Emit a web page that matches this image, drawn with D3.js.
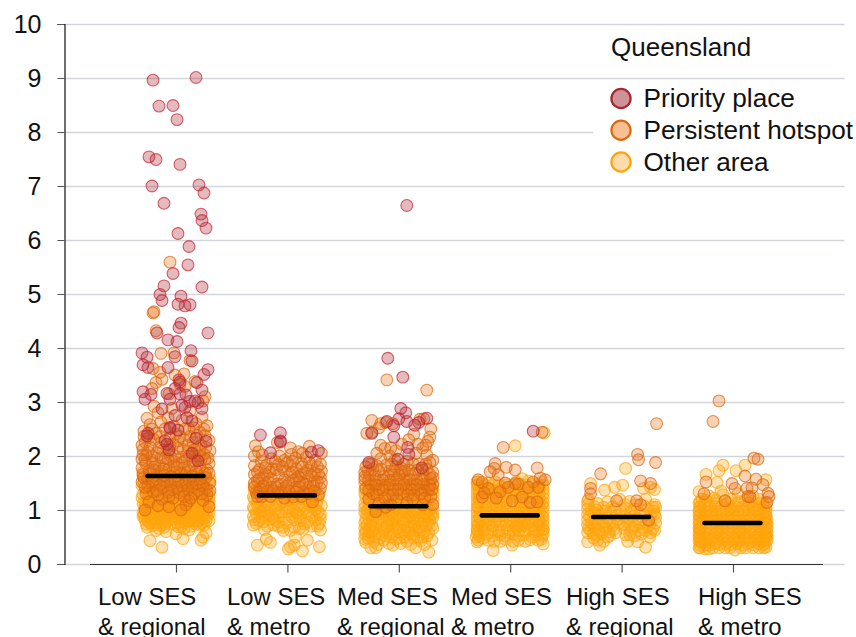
<!DOCTYPE html>
<html>
<head>
<meta charset="utf-8">
<script src="https://cdn.jsdelivr.net/npm/d3@7"></script>
<style>
  body { margin: 0; background: #fff; }
  svg { display: block; font-family: "Liberation Sans", Arial, sans-serif; }
</style>
</head>
<body>
<svg id="my_svg"></svg>
<script>
const categories = ['Low SES & regional', 'Low SES & metro', 'Med SES & regional', 'Med SES & metro', 'High SES & regional', 'High SES & metro'];
const labelLines = [['Low SES', '& regional'], ['Low SES', '& metro'], ['Med SES', '& regional'], ['Med SES', '& metro'], ['High SES', '& regional'], ['High SES', '& metro']];
const yTicks = [0, 1, 2, 3, 4, 5, 6, 7, 8, 9, 10];
const means = [1.63, 1.27, 1.07, 0.9, 0.87, 0.76];
const legendTitle = 'Queensland';
const legendLabels = ['Priority place', 'Persistent hotspot', 'Other area'];

// each point is [jitter, value]
const lowRegionalOther = [[-26,.43],[-14,.31],[7,.47],[25,.44],[27,.5],[-10,.6],[-20,.62],[0,.56],[13,.63],[30,.58],[-29,.68],[-31,.82],[-24,.71],[-18,.78],[-12,.68],[-5,.74],[2,.69],[9,.76],[15,.7],[22,.79],[28,.72],[33,.8],[-27,.88],[-14,.85],[-1,.83],[11,.86],[25,.87],[-33,.95],[-22,.93],[-8,.9],[5,.94],[18,.91],[31,.96],[-29,1.02],[-17,.99],[-4,1.03],[8,1.0],[21,1.04],[33,1.07],[-33,1.12],[-24,1.09],[-11,1.13],[2,1.1],[14,1.08],[27,1.12],[-28,1.2],[-19,1.17],[-7,1.21],[6,1.18],[17,1.2],[30,1.22],[-33,1.29],[-23,1.27],[-13,1.3],[-1,1.26],[11,1.29],[23,1.28],[33,1.31],[-30,1.37],[-18,1.36],[-6,1.39],[5,1.35],[18,1.37],[28,1.4],[-34,1.45],[-25,1.44],[-12,1.47],[1,1.44],[13,1.46],[25,1.48],[33,1.5],[-29,1.54],[-17,1.52],[-4,1.55],[9,1.53],[20,1.56],[-33,1.62],[-21,1.6],[-9,1.63],[5,1.61],[16,1.64],[30,1.62],[-26,.76],[-7,.98],[12,.95],[-20,1.05],[24,.99],[-31,1.05],[6,.8],[19,.83],[-16,1.1],[-2,1.16],[30,1.03],[-9,.79],[-27,1.25],[16,1.12],[-15,.92],[-1,.95],[25,1.2],[10,1.14],[-22,1.33],[3,1.25],[20,.74],[-17,.66],[8,.66],
  [-30,.74],[-21,.84],[-11,.75],[-3,.88],[4,.78],[13,.79],[18,.8],[26,.76],[31,.88],[-32,.9],[-24,.98],[-12,.97],[-2,1.0],[10,1.03],[16,.96],[22,.97],[28,.93],[-30,1.14],[-21,1.14],[-9,1.07],[0,1.06],[8,1.07],[19,1.14],[24,1.06],[33,1.16],[-34,1.23],[-25,1.21],[-13,1.24],[-4,1.31],[7,1.33],[15,1.24],[28,1.3],[33,1.24],[-28,1.33],[-20,1.41],[-9,1.44],[2,1.39],[11,1.41],[22,1.43],[31,1.35],[-32,1.5],[-23,1.52],[-14,1.56],[-1,1.5],[7,1.47],[17,1.5],[27,1.55],[34,1.57],[-27,1.6],[-13,1.65],[1,1.6],[12,1.6],[24,1.62],[-33,1.7],[-19,1.72],[-4,1.7],[9,1.7],[26,1.72],[-24,.82],[-10,.85],[3,.86],[15,.86],[28,.84],[-16,.72],[5,.7],[24,.72],[-30,.95],[-7,1.13],[13,1.16],[-18,1.24],[20,1.3],[-26,1.42],
  [-33,.88],[-28,.8],[-20,.76],[-13,.8],[-7,.84],[0,.78],[7,.86],[11,.8],[17,.85],[23,.84],[30,.8],[-26,.95],[-19,.9],[-11,.9],[-4,.94],[2,.92],[9,.91],[14,.98],[20,.95],[27,.97],[33,.94],[-31,1.1],[-25,1.03],[-13,1.04],[-3,1.09],[4,1.03],[11,1.08],[18,1.05],[27,1.05],[32,1.12],[-22,1.2],[-11,1.2],[1,1.18],[11,1.2],[21,1.18]];
const lowRegionalPersistent = [[-6,5.59],[-23,4.65],[-22,4.67],[-20,4.32],[-15,3.9],[-2,3.91],[14,3.77],[-23,3.62],[-16,3.55],[-1,3.5],[8,3.52],[-20,3.36],[-14,3.42],[-24,3.25],[9,3.29],[29,3.1],[27,3.02],[-7,3.15],[4,3.33],[19,3.38],[-22,2.92],[-18,2.8],[-29,2.7],[-4,2.88],[14,2.83],[26,2.72],[-26,2.58],[-15,2.63],[-8,2.71],[6,2.66],[20,2.6],[28,2.5],[31,2.56],[-32,2.46],[-20,2.42],[-11,2.5],[0,2.41],[13,2.5],[24,2.44],[29,2.38],[33,2.29],[-31,2.26],[-22,2.3],[-3,2.22],[8,2.3],[17,2.25],[25,2.2],[34,2.1],[-33,2.12],[-26,2.16],[-13,2.11],[2,2.14],[12,2.08],[28,2.03],[-30,2.02],[-19,2.06],[-6,2.01],[6,1.98],[19,2.0],[32,1.96],[-34,1.94],[-24,1.92],[-15,1.97],[-2,1.9],[11,1.94],[25,1.93],[-30,1.86],[-10,1.86],[3,1.84],[17,1.86],[33,1.86],[-34,1.78],[-21,1.8],[-7,1.77],[8,1.78],[24,1.8],[-27,1.72],[-14,1.72],[0,1.7],[14,1.71],[31,1.74],[-33,1.66],[-19,1.64],[-5,1.62],[9,1.64],[22,1.66],[-28,1.58],[-12,1.56],[3,1.57],[17,1.55],[30,1.6],[-34,1.52],[-20,1.5],[-6,1.48],[10,1.5],[24,1.52],[34,1.5],[-28,1.44],[-13,1.42],[1,1.42],[16,1.44],[30,1.4],[-23,1.34],[-8,1.33],[8,1.35],[22,1.36],[-30,1.3],[31,1.28],[-27,1.15],[-14,1.2],[-3,1.22],[13,1.17],[27,1.18],[-18,1.08],[-7,1.06],[10,1.1],[33,1.06],[-31,1.0],[5,1.0],
  [-31,1.92],[-26,1.68],[-17,1.82],[-2,1.82],[5,1.68],[13,1.8],[20,1.72],[29,1.68],[-32,1.6],[-24,1.52],[-16,1.46],[-9,1.52],[-1,1.54],[6,1.45],[13,1.55],[20,1.48],[27,1.45],[-31,1.42],[-19,1.36],[-4,1.37],[3,1.32],[12,1.38],[18,1.3],[26,1.3],[34,1.36],[-33,2.02],[-24,2.0],[-11,1.96],[-1,2.0],[13,2.0],[23,2.0],[29,1.94],[-28,2.08],[-17,2.15],[-7,2.08],[7,2.12],[18,2.12],[24,2.1],[-34,2.2],[-15,2.25],[-6,2.2],[2,2.28],[12,2.2],[21,2.15],[30,2.16],[-27,2.34],[-16,2.36],[-6,2.34],[4,2.36],[14,2.36],[21,2.38],[-32,2.36],[-24,2.5],[-2,2.55],[9,2.5],[18,2.52],[-12,1.76],[-22,1.74],[6,1.88],[-8,1.94],[-12,1.64],[1,1.78],[16,1.62],[25,1.58],[33,1.68],[-23,1.86],[19,1.9],[-18,1.28],[-7,1.25],[8,1.25],[15,1.22]];
const lowRegionalPriority = [[-23,8.96],[20,9.01],[-17,8.48],[-3,8.49],[1,8.23],[-27,7.54],[-20,7.49],[4,7.4],[-24,7.0],[23,7.02],[28,6.87],[-12,6.68],[25,6.48],[26,6.36],[30,6.22],[2,6.12],[13,5.88],[12,5.54],[-3,5.38],[-12,5.15],[26,5.13],[-16,4.99],[5,4.96],[-14,4.88],[2,4.81],[14,4.8],[9,4.78],[5,4.46],[3,4.38],[32,4.28],[-19,4.28],[-8,4.15],[1,4.12],[15,3.95],[-34,3.91],[-29,3.83],[-1,3.84],[16,3.76],[-33,3.69],[-28,3.64],[-8,3.64],[32,3.6],[28,3.51],[3,3.41],[4,3.37],[21,3.36],[-1,3.25],[-33,3.19],[26,3.22],[-25,3.14],[-31,3.05],[-9,3.16],[-6,3.05],[4,3.15],[10,3.13],[6,2.94],[9,2.9],[14,3.01],[19,3.02],[22,2.99],[26,2.88],[-14,2.87],[-1,2.75],[11,2.71],[16,2.65],[-6,2.53],[-6,2.51],[2,2.48],[-28,2.42],[-29,2.37],[-11,2.28],[-9,2.22],[-7,2.11],[20,2.33],[30,2.27],[16,2.05],[22,1.91]];

const lowMetroOther = [[-30,.35],[-21,.46],[-17,.4],[1,.28],[3,.32],[7,.35],[15,.24],[20,.44],[32,.32],[8,.5],[33,.63],[-34,.72],[-23,.64],[-14,.72],[-5,.68],[3,.62],[12,.66],[24,.7],[32,.75],[-28,.8],[-18,.83],[-9,.78],[-1,.76],[8,.82],[17,.74],[28,.82],[-34,.88],[-22,.9],[-12,.92],[2,.9],[13,.88],[22,.94],[33,.92],[-28,.98],[-17,1.0],[-6,.97],[6,1.0],[17,1.02],[28,1.0],[-34,1.05],[-23,1.08],[-11,1.08],[-1,1.1],[11,1.1],[23,1.12],[34,1.08],[-30,1.15],[-18,1.17],[-5,1.16],[6,1.18],[17,1.2],[30,1.18],[-34,1.24],[-24,1.26],[-12,1.26],[1,1.27],[13,1.28],[26,1.28],[-31,1.34],[-18,1.36],[-6,1.33],[8,1.36],[20,1.36],[32,1.32],[-33,1.44],[-26,.97],[9,.94],[-13,.82],
  [-31,.75],[-24,.78],[-20,.7],[-9,.7],[-4,.62],[7,.68],[16,.66],[20,.78],[30,.7],[-33,.82],[-25,.86],[-15,.86],[-4,.84],[5,.86],[13,.8],[25,.88],[33,.84],[-31,.94],[-20,.95],[-9,.95],[0,.97],[10,.94],[19,.96],[31,.97],[-33,1.02],[-24,1.0],[-12,1.02],[2,1.04],[14,1.05],[25,1.05],[-30,1.1],[-19,1.12],[-7,1.12],[5,1.13],[19,1.13],[29,1.12],[-33,1.2],[-24,1.18],[-11,1.2],[0,1.2],[12,1.22],[24,1.2],[-28,1.3],[-15,1.3],[-3,1.32],[6,1.3],[18,1.32],[31,1.25],[-33,1.36],[-24,1.38],[25,1.36]];
const lowMetroPersistent = [[-32,2.19],[-29,2.08],[-10,2.25],[3,2.15],[22,2.18],[34,2.05],[-33,2.0],[-25,2.02],[11,2.08],[15,2.05],[4,2.03],[-8,2.0],[-26,1.9],[-16,1.95],[-3,1.92],[8,1.96],[19,1.98],[28,1.92],[33,1.85],[-33,1.82],[-21,1.83],[-9,1.84],[3,1.82],[14,1.86],[24,1.82],[-28,1.75],[-15,1.76],[-3,1.72],[9,1.76],[20,1.74],[34,1.72],[-33,1.66],[-22,1.66],[-9,1.65],[3,1.66],[14,1.66],[27,1.68],[-28,1.58],[-16,1.58],[-3,1.56],[9,1.58],[21,1.58],[33,1.6],[-33,1.5],[-22,1.5],[-10,1.48],[2,1.5],[15,1.5],[27,1.52],[-27,1.4],[-16,1.42],[-4,1.4],[8,1.42],[21,1.42],[33,1.4],[-31,1.32],[-10,1.32],[16,1.33],[31,1.28],[-26,1.24],[-3,1.22],[25,1.15],
  [-30,1.7],[-24,1.6],[-18,1.7],[-11,1.75],[-5,1.8],[5,1.7],[11,1.62],[18,1.68],[24,1.64],[31,1.66],[-30,1.54],[-19,1.52],[-6,1.48],[6,1.55],[12,1.52],[18,1.48],[30,1.52],[-33,1.42],[-24,1.44],[-11,1.42],[-1,1.44],[12,1.42],[26,1.44],[34,1.5],[-28,1.33],[-20,1.35],[-14,1.35],[-6,1.32],[2,1.34],[9,1.33],[21,1.3],[27,1.35],[-30,1.25],[-17,1.25],[6,1.24],[14,1.25],[-22,1.78],[0,1.88],[15,1.8],[22,1.88],[30,1.8],[-12,1.9],[5,1.9]];
const lowMetroPriority = [[-27,2.39],[-7,2.43],[-7,2.26],[-7,2.28],[-17,2.06],[24,2.07],[31,2.1]];

const medRegionalOther = [[-28,.3],[-23,.3],[17,.3],[30,.22],[-6,.35],[33,.44],[-34,.46],[-34,.56],[-25,.42],[-15,.44],[-3,.46],[8,.42],[22,.43],[28,.52],[-30,.63],[-20,.55],[-9,.56],[3,.55],[14,.54],[25,.6],[34,.66],[-26,.7],[-14,.66],[-2,.66],[9,.68],[20,.68],[30,.74],[-34,.76],[-21,.78],[-8,.75],[4,.77],[15,.78],[26,.8],[-30,.85],[-16,.86],[-3,.84],[9,.88],[21,.88],[34,.86],[-34,.95],[-23,.94],[-10,.94],[3,.95],[14,.97],[28,.96],[-29,1.03],[-17,1.04],[-4,1.04],[8,1.06],[21,1.04],[34,1.03],[-34,1.12],[-23,1.13],[-10,1.12],[2,1.13],[15,1.14],[27,1.13],[-30,1.22],[-17,1.22],[-5,1.21],[8,1.22],[21,1.22],[34,1.2],[-34,1.3],[-23,1.3],[-11,1.3],[2,1.3],[15,1.3],[28,1.3],[-30,1.39],[-17,1.38],[-4,1.38],[10,1.38],[22,1.4],[34,1.38],[-34,1.48],[-24,1.47],[-10,1.46],[4,1.46],[17,1.48],[30,1.48],[-34,.66],[-12,.76],[11,.78],[32,.92],[-20,1.0],[6,.98],[25,1.08],[-27,1.17],[12,1.27],[-14,1.42],[-6,1.65],[4,1.72],[-30,.52],[17,.62],[-10,1.03],
  [-33,.4],[-21,.36],[-10,.38],[2,.38],[12,.36],[26,.36],[-33,.6],[-28,.58],[-24,.52],[-13,.52],[-6,.6],[6,.5],[11,.58],[19,.48],[30,.58],[-32,.72],[-23,.66],[-18,.72],[-5,.72],[5,.62],[13,.7],[23,.74],[33,.72],[-33,.84],[-26,.82],[-10,.82],[2,.84],[14,.84],[26,.88],[31,.82],[-32,.93],[-17,.94],[-6,.92],[8,.94],[19,.95],[34,.93],[-28,.96],[-22,1.04],[-12,1.0],[1,1.0],[13,1.02],[28,1.04],[-34,1.04],[-30,1.12],[-17,1.12],[-4,1.12],[9,1.14],[21,1.12],[33,1.12],[-24,1.2],[-11,1.22],[2,1.2],[14,1.22],[28,1.22],[-33,1.22],[-29,1.3],[-17,1.3],[-4,1.3],[9,1.3],[22,1.3],[34,1.3],[-24,1.38],[-10,1.38],[3,1.38],[16,1.38],[29,1.38],[-30,1.46],[-17,1.46],[-3,1.46],[11,1.46],[24,1.46],[34,1.45],[-34,1.38],[-23,1.54],[-9,1.54],[5,1.54],[18,1.54],[31,1.54],
  [-31,.48],[-19,.48],[-8,.5],[1,.48],[15,.48],[24,.5],[-26,.6],[-15,.6],[-1,.6],[9,.6],[21,.6],[-28,.72],[-12,.7],[-1,.72],[16,.7],[27,.72],[-20,.84],[-6,.82],[7,.82],[19,.82],[29,.88],[-25,.9],[-13,.92],[0,.9],[12,.9],[25,.94],[-31,1.0],[-16,1.0],[-5,.98],[5,1.04],[18,1.0],[31,1.0],[-26,1.08],[-13,1.08],[-1,1.08],[12,1.08],[24,1.16]];
const medRegionalPersistent = [[-12,3.41],[28,3.22],[-27,2.66],[-18,2.6],[-13,2.62],[21,2.68],[25,2.69],[32,2.5],[-32,2.42],[-27,2.44],[-20,2.52],[-6,2.6],[31,2.35],[15,2.4],[29,2.27],[-18,2.2],[-14,2.14],[-8,2.15],[-3,2.1],[19,2.22],[24,2.15],[27,2.2],[-22,2.05],[-9,2.0],[3,2.22],[10,2.3],[17,2.05],[28,2.02],[-18,1.95],[-4,1.92],[8,1.9],[34,1.92],[-30,1.85],[-22,1.82],[-12,1.84],[14,1.86],[31,1.88],[-26,1.76],[-3,1.8],[2,1.78],[28,1.76],[-34,1.7],[-20,1.72],[-9,1.72],[6,1.72],[19,1.74],[34,1.7],[-29,1.64],[-15,1.62],[0,1.64],[12,1.64],[25,1.64],[-34,1.56],[-22,1.54],[-8,1.55],[5,1.56],[18,1.56],[32,1.58],[-28,1.48],[-14,1.46],[0,1.48],[12,1.47],[25,1.48],[34,1.48],[-33,1.4],[-20,1.38],[-6,1.38],[7,1.4],[20,1.38],[30,1.38],[-26,1.3],[-10,1.28],[2,1.3],[15,1.28],[32,1.25],[-30,1.2],[-2,1.2],[-13,1.05],[-20,1.12],[-8,1.1],[8,1.14],[24,1.1],[34,1.1],[-23,.97],
  [-31,1.72],[-24,1.64],[-18,1.76],[-10,1.62],[-5,1.72],[3,1.7],[10,1.74],[16,1.68],[24,1.74],[31,1.66],[-30,1.55],[-16,1.55],[-2,1.56],[11,1.56],[24,1.55],[34,1.6],[-34,1.62],[-23,1.46],[-9,1.47],[5,1.47],[18,1.46],[31,1.46],[-30,1.36],[-16,1.37],[-1,1.38],[13,1.38],[26,1.36],[33,1.38],[-22,1.28],[-6,1.28],[9,1.28],[22,1.3],[-14,1.22],[14,1.2],[26,1.22],[-27,1.85],[-7,1.85],[5,1.85],[20,1.85],[27,1.85],[-33,1.8]];
const medRegionalPriority = [[8,6.64],[-11,3.81],[4,3.46],[2,2.88],[7,2.8],[-12,2.64],[0,2.69],[8,2.64],[-5,2.56],[16,2.57],[20,2.62],[28,2.7],[-27,2.42],[-5,2.35],[9,2.16],[10,2.03],[-1,1.94],[-30,1.88],[23,1.78]];

const medMetroOther = [[5,2.19],[34,2.43],[-17,.25],[2,.35],[-33,.41],[33,.37],[-34,.5],[-27,.48],[-16,.42],[-5,.46],[8,.44],[20,.45],[28,.44],[-33,.56],[-23,.55],[-10,.54],[3,.55],[14,.54],[26,.54],[33,.56],[-30,.63],[-17,.63],[-3,.64],[9,.62],[21,.64],[33,.64],[-33,.72],[-24,.72],[-10,.72],[2,.71],[15,.72],[28,.73],[-30,.8],[-16,.8],[-4,.8],[9,.8],[22,.81],[33,.8],[-33,.88],[-23,.88],[-10,.89],[3,.88],[16,.89],[28,.89],[-30,.97],[-17,.97],[-3,.97],[9,.96],[22,.98],[33,.96],[-33,1.05],[-24,1.05],[-10,1.05],[3,1.05],[16,1.05],[29,1.06],[-31,1.14],[-17,1.13],[-4,1.13],[10,1.14],[22,1.14],[33,1.14],[-33,1.22],[-24,1.22],[-11,1.22],[3,1.22],[16,1.22],[29,1.23],[-31,1.3],[-18,1.3],[-4,1.3],[10,1.3],[23,1.31],[33,1.3],[-33,1.38],[-24,1.38],[-11,1.38],[3,1.38],[16,1.38],[29,1.4],[-32,1.46],[-18,1.46],[-3,1.47],[10,1.48],[23,1.48],[33,1.46],[-33,1.52],[12,1.58],[-28,.68],[-12,.6],[6,.68],[-20,.76],[18,.76],[31,.7],[-6,.9],[25,.93],[-26,1.0],[12,1.0],[-14,1.1],[32,1.1],[-22,1.26],[6,1.26],[-8,1.42],[20,1.34],[-33,.64],[-1,.58],[24,.6],[-18,.89],[13,.84],[33,.87],[-33,.96],[-31,1.18],[-15,1.35],[27,1.18],[-27,1.44],[-7,1.17],[8,.75],
  [-32,.44],[-22,.44],[-10,.42],[3,.42],[15,.42],[31,.46],[-31,.52],[-18,.52],[-5,.52],[9,.52],[22,.5],[32,.52],[-33,.62],[-25,.63],[-11,.62],[3,.62],[15,.62],[28,.62],[33,.64],[-32,.72],[-18,.72],[-4,.72],[9,.7],[22,.72],[33,.72],[-33,.8],[-24,.8],[-11,.8],[2,.8],[15,.8],[29,.8],[-31,.88],[-17,.88],[-3,.88],[10,.88],[23,.88],[32,.88],[-25,.96],[-10,.96],[3,.96],[16,.96],[29,.96],[-32,1.05],[-18,1.05],[-4,1.05],[10,1.05],[22,1.05],[33,1.05],[-33,1.14],[-25,1.14],[-11,1.14],[3,1.14],[16,1.14],[29,1.14],[-31,1.22],[-18,1.22],[-4,1.22],[10,1.22],[23,1.22],[33,1.22],[-33,1.3],[-25,1.3],[-11,1.3],[3,1.3],[16,1.3],[29,1.3],[-31,1.38],[-18,1.38],[-4,1.38],[10,1.38],[23,1.38],[33,1.38],[-33,1.46],[-25,1.46],[-11,1.46],[3,1.46],[16,1.46],[29,1.46],[-33,1.52],[-22,1.5],[-15,1.52],[6,1.52],[18,1.54],[32,1.52]];
const medMetroPersistent = [[32,2.44],[-7,2.16],[-15,1.86],[-16,1.77],[-4,1.79],[5,1.74],[27,1.78],[-12,1.65],[-20,1.71],[-32,1.56],[-28,1.51],[35,1.56],[30,1.59],[23,1.52],[-5,1.5],[5,1.49],[-2,1.42],[8,1.48],[18,1.42],[-10,1.34],[-22,1.4],[-28,1.24],[2,1.17],[20,1.14],[27,1.15],[-14,1.22],[12,1.24],[28,1.42],[-26,1.32]];
const medMetroPriority = [[23,2.46]];

const highRegionalOther = [[4,1.77],[-31,1.49],[-17,1.37],[-7,1.42],[1,1.46],[33,1.38],[22,1.4],[29,1.42],[-34,1.17],[-33,1.2],[-24,1.12],[-14,1.15],[-2,1.2],[8,1.16],[24,1.2],[33,1.1],[34,1.05],[-34,1.02],[-27,1.06],[-18,1.05],[-9,1.06],[3,1.1],[13,1.02],[22,1.08],[32,.98],[-34,.92],[-28,.95],[-20,.92],[-11,.96],[-1,.98],[9,.96],[18,.94],[29,.88],[34,.86],[-34,.82],[-24,.84],[-14,.85],[-4,.82],[7,.84],[16,.84],[25,.78],[34,.76],[-34,.72],[-28,.72],[-18,.72],[-9,.72],[2,.74],[13,.72],[21,.68],[31,.65],[-31,.62],[-23,.62],[-12,.6],[-6,.58],[9,.62],[20,.55],[28,.5],[-34,.41],[-28,.48],[-22,.35],[-18,.42],[6,.42],[16,.41],[24,.31],[-25,.54],[-34,.58],[4,.54],[13,.52],[29,.58],
  [-34,1.1],[-30,.98],[-25,1.0],[-16,.98],[-7,1.02],[4,1.03],[14,1.1],[26,1.02],[31,1.05],[-32,.88],[-23,.9],[-15,.78],[-5,.9],[3,.88],[12,.88],[23,.9],[33,.92],[-30,.76],[-22,.77],[-12,.76],[-2,.76],[6,.78],[18,.76],[28,.72],[-33,.66],[-26,.66],[-16,.66],[-8,.64],[3,.66],[11,.66],[24,.62],[-28,.56],[-20,.56],[-12,.52],[8,.54],[17,.62],[33,.62],[-24,.44],[-14,.5]];
const highRegionalPersistent = [[35,2.6],[16,2.03],[17,1.93],[34,1.88],[-21,1.67],[19,1.54],[29,1.49],[-31,1.4],[-31,1.3],[-5,1.17],[15,1.17],[19,1.1],[27,.81]];

const highMetroOther = [[-27,1.66],[-14,1.73],[-10,1.83],[3,1.73],[12,1.83],[-16,1.51],[33,1.56],[-34,1.34],[-12,1.35],[-24,1.26],[-10,1.28],[5,1.3],[20,1.26],[-33,1.15],[-27,1.18],[-17,1.18],[-5,1.14],[6,1.16],[18,1.16],[30,1.12],[-33,1.06],[-28,1.07],[-18,1.06],[-8,1.04],[3,1.06],[14,1.06],[26,1.04],[33,1.04],[-33,.98],[-22,.98],[-12,.97],[-1,.97],[10,.98],[21,.96],[32,.96],[-34,.9],[-28,.9],[-17,.9],[-6,.88],[5,.9],[16,.9],[27,.88],[33,.88],[-33,.82],[-22,.82],[-11,.82],[0,.82],[11,.82],[22,.82],[32,.82],[-34,.74],[-27,.75],[-16,.74],[-5,.74],[6,.74],[17,.74],[28,.74],[34,.74],[-33,.67],[-22,.66],[-11,.66],[0,.66],[12,.66],[23,.66],[33,.66],[-34,.58],[-28,.58],[-17,.58],[-5,.58],[6,.58],[17,.58],[28,.58],[34,.58],[-33,.5],[-22,.5],[-11,.5],[0,.5],[12,.5],[23,.5],[33,.5],[-34,.43],[-28,.42],[-16,.43],[-5,.42],[7,.43],[18,.42],[29,.43],[34,.44],[-33,.35],[-24,.35],[-13,.36],[-2,.36],[9,.35],[20,.36],[31,.36],[-33,.3],[-28,.28],[-8,.3],[2,.26],[13,.3],[26,.3],[-20,.3],[33,.31],[-30,.8],[-14,.62],[8,.62],[26,.8],[-20,.94],[14,.72],[-3,1.01],[-25,.46],[16,.46],[33,.52],[-33,.64],[5,.4],[-10,.78],[30,.6],[22,1.02],
  [-34,.3],[-24,.28],[-14,.3],[-3,.3],[8,.3],[20,.3],[31,.3],[-32,.4],[-27,.36],[-18,.38],[-7,.37],[4,.38],[15,.38],[26,.38],[32,.38],[-33,.44],[-22,.44],[-10,.44],[1,.44],[12,.44],[23,.44],[31,.44],[-34,.5],[-28,.5],[-17,.5],[-5,.5],[6,.5],[17,.5],[28,.5],[34,.5],[-33,.58],[-22,.58],[-11,.58],[0,.58],[11,.58],[22,.58],[33,.58],[-34,.66],[-27,.66],[-16,.66],[-5,.66],[6,.66],[17,.66],[28,.66],[34,.66],[-33,.74],[-22,.74],[-11,.74],[0,.74],[11,.74],[22,.74],[33,.74],[-34,.82],[-27,.82],[-16,.82],[-5,.82],[6,.82],[17,.82],[27,.82],[34,.82],[-33,.9],[-22,.9],[-11,.9],[0,.9],[11,.9],[22,.9],[33,.9],[-34,.98],[-27,.98],[-17,.98],[-6,.98],[5,.98],[16,.98],[27,.98],[33,.98],[-33,1.05],[-23,1.05],[-13,1.05],[-2,1.05],[9,1.05],[20,1.05],[31,1.05],[-34,1.13],[-28,1.14],[-17,1.12],[-6,1.12],[5,1.13],[16,1.13],[27,1.13],[33,1.13],[-31,1.2],[-19,1.22],[-2,1.2],[12,1.18],[26,1.2]];
const highMetroPersistent = [[-14,3.02],[-20,2.64],[21,1.96],[25,1.94],[12,1.63],[23,1.57],[-27,1.52],[-1,1.49],[2,1.4],[14,1.4],[19,1.41],[30,1.47],[-29,1.3],[-8,1.17],[15,1.25],[17,1.24],[35,1.31],[36,1.25],[34,1.14]];

// draw order: other areas at the back, priority places on top
const groupStyles = [
  { key: 'other', fill: '#ffa40c', stroke: '#ffa40c' },
  { key: 'persistent', fill: '#e8731a', stroke: '#d9660c' },
  { key: 'priority', fill: '#a82a38', stroke: '#c8202c' }
];
const seriesTable = {
  other: [lowRegionalOther, lowMetroOther, medRegionalOther, medMetroOther, highRegionalOther, highMetroOther],
  persistent: [lowRegionalPersistent, lowMetroPersistent, medRegionalPersistent, medMetroPersistent, highRegionalPersistent, highMetroPersistent],
  priority: [lowRegionalPriority, lowMetroPriority, medRegionalPriority, medMetroPriority, [], []]
};

const width = 856;
const height = 637;
const svg = d3.select('#my_svg').attr('width', width).attr('height', height);

const x = d3.scalePoint().domain(categories).range([176, 733]);
const y = d3.scaleLinear().domain([0, 10]).range([564, 24]);
const jitter = d3.scaleLinear().domain([-40, 40]).range([-40, 40]);

// gridlines
svg.append('g')
  .attr('transform', 'translate(64.5,0)')
  .call(d3.axisLeft(y).tickValues(yTicks).tickSize(-780).tickFormat(''))
  .call(g => g.select('.domain').remove())
  .call(g => g.selectAll('line').attr('stroke', '#d2d5db').attr('stroke-width', 1.4));

// legend sits on a white panel that hides the 8 gridline
svg.append('rect').attr('x', 593).attr('y', 90).attr('width', 263).attr('height', 88).attr('fill', '#fff');

// y axis
svg.append('g')
  .attr('transform', 'translate(64.5,0)')
  .call(d3.axisLeft(y).tickValues(yTicks).tickSize(7).tickPadding(16))
  .call(g => g.select('.domain').attr('stroke', '#111').attr('stroke-width', 1.2))
  .call(g => g.selectAll('line').attr('stroke', '#555'))
  .call(g => g.selectAll('text').attr('font-size', 25).attr('font-family', 'inherit').attr('fill', '#111'));

// x axis
svg.append('g')
  .attr('transform', 'translate(0,564.5)')
  .call(d3.axisBottom(x).tickSize(8).tickFormat(''))
  .call(g => g.select('.domain').remove())
  .call(g => g.selectAll('line').attr('stroke', '#555').attr('stroke-width', 1.2));
svg.append('line').attr('x1', 90).attr('x2', 823).attr('y1', 564.5).attr('y2', 564.5)
  .attr('stroke', '#333').attr('stroke-width', 1.2);

const labelLeft = [98, 227, 337, 451, 566, 698];
labelLines.forEach((lines, i) => {
  svg.append('text').attr('x', labelLeft[i]).attr('y', 605).attr('font-size', 23.9).attr('fill', '#111').text(lines[0]);
  svg.append('text').attr('x', labelLeft[i]).attr('y', 635).attr('font-size', 23.9).attr('fill', '#111').text(lines[1]);
});

// points
groupStyles.forEach(style => {
  seriesTable[style.key].forEach((points, i) => {
    svg.append('g').selectAll('circle')
      .data(points)
      .join('circle')
      .attr('cx', d => x(categories[i]) + jitter(d[0]))
      .attr('cy', d => y(d[1]))
      .attr('r', 5.9)
      .attr('fill', style.fill)
      .attr('fill-opacity', 0.32)
      .attr('stroke', style.stroke)
      .attr('stroke-opacity', 0.7)
      .attr('stroke-width', 1.1);
  });
});

// mean bars
svg.append('g').selectAll('line')
  .data(means)
  .join('line')
  .attr('x1', (d, i) => x(categories[i]) - 28.5)
  .attr('x2', (d, i) => x(categories[i]) + 27.5)
  .attr('y1', d => y(d))
  .attr('y2', d => y(d))
  .attr('stroke', '#000')
  .attr('stroke-width', 4.6)
  .attr('stroke-linecap', 'round');

// legend
svg.append('text').attr('x', 611).attr('y', 55.5).attr('font-size', 26).attr('fill', '#111').text(legendTitle);
const legendStyles = [
  { fill: '#cf9298', stroke: '#a5282f' },
  { fill: '#fbbe92', stroke: '#d9690e' },
  { fill: '#fedcaa', stroke: '#ffa30a' }
];
const legendY = d3.scalePoint().domain(legendLabels).range([98.5, 162]);
const legend = svg.append('g').selectAll('g').data(legendLabels).join('g');
legend.append('circle')
  .attr('cx', 621)
  .attr('cy', d => legendY(d))
  .attr('r', 9.6)
  .attr('fill', (d, i) => legendStyles[i].fill)
  .attr('stroke', (d, i) => legendStyles[i].stroke)
  .attr('stroke-width', 2.2);
legend.append('text')
  .attr('x', 643.5)
  .attr('y', d => legendY(d) + 8.5)
  .attr('font-size', 26.2)
  .attr('fill', '#111')
  .text(d => d);
</script>
</body>
</html>
